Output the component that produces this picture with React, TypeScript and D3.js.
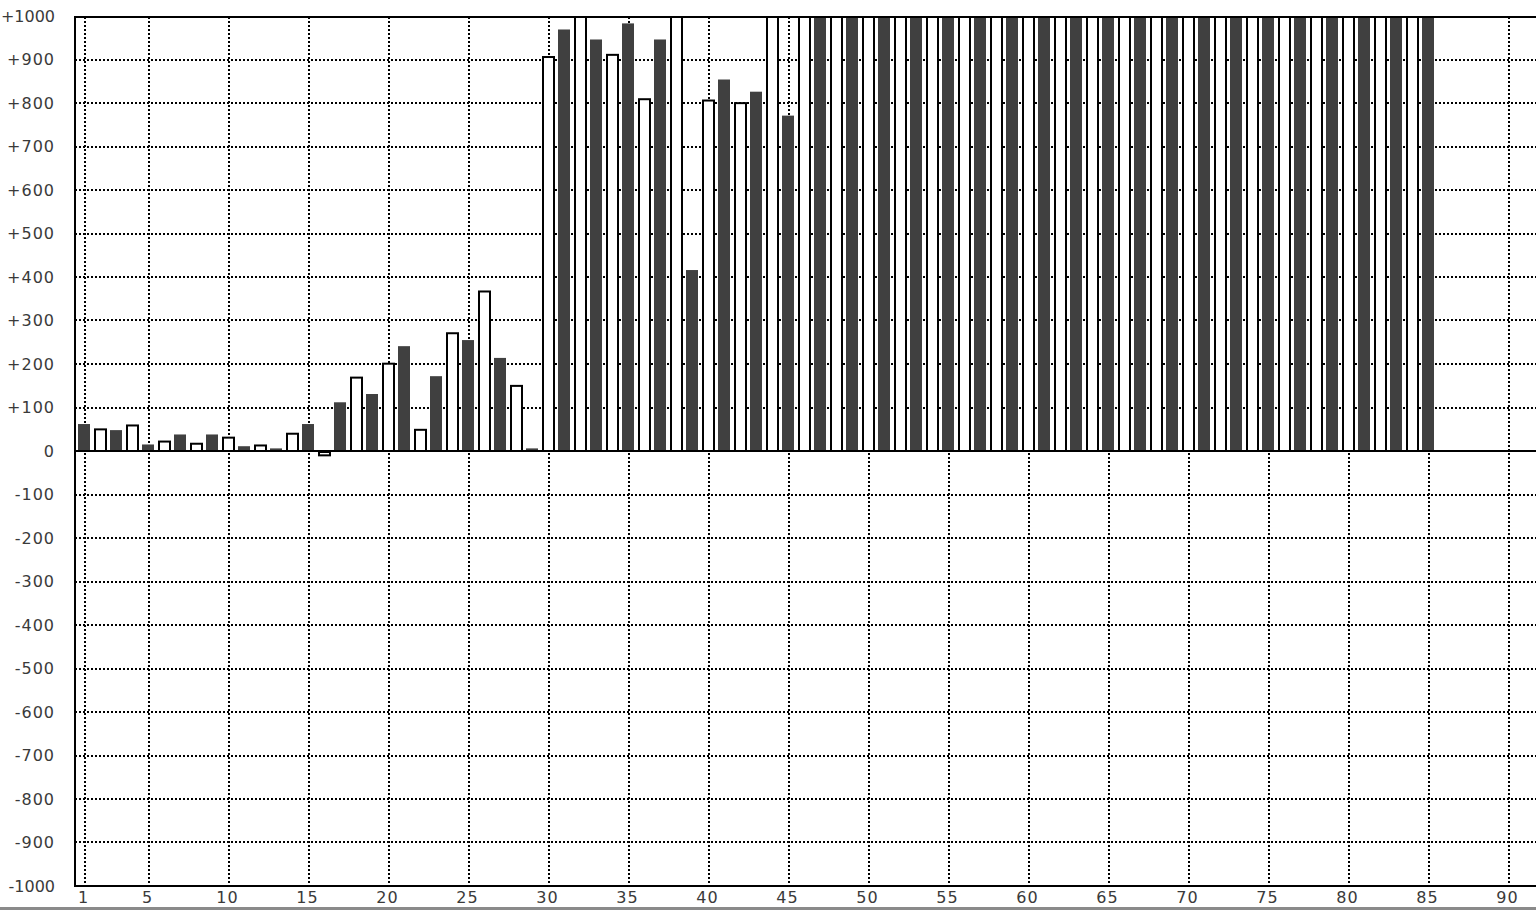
import React from "react";
import * as d3 from "d3";

// Dark series: odd positions 1,3,...,85
const darkX = [1,3,5,7,9,11,13,15,17,19,21,23,25,27,29,31,33,35,37,39,41,43,45,47,49,51,53,55,57,59,61,63,65,67,69,71,73,75,77,79,81,83,85];
const darkValues = [62,48,15,38,38,11,6,62,112,131,241,172,255,214,6,969,946,983,946,416,854,826,771,1000,1000,1000,1000,1000,1000,1000,1000,1000,1000,1000,1000,1000,1000,1000,1000,1000,1000,1000,1000];
// Light (outlined) series: even positions 2,4,...,84
const lightX = [2,4,6,8,10,12,14,16,18,20,22,24,26,28,30,32,34,36,38,40,42,44,46,48,50,52,54,56,58,60,62,64,66,68,70,72,74,76,78,80,82,84];
const lightValues = [52,61,24,19,33,15,42,-10,171,203,51,273,369,152,908,1000,913,811,1000,808,802,1000,1000,1000,1000,1000,1000,1000,1000,1000,1000,1000,1000,1000,1000,1000,1000,1000,1000,1000,1000,1000];

const xTicks = [1,5,10,15,20,25,30,35,40,45,50,55,60,65,70,75,80,85,90];
const yTicks = [1000,900,800,700,600,500,400,300,200,100,0,-100,-200,-300,-400,-500,-600,-700,-800,-900,-1000];
const yLabels = ["+1000","+900","+800","+700","+600","+500","+400","+300","+200","+100","0","-100","-200","-300","-400","-500","-600","-700","-800","-900","-1000"];

const W = 1536, H = 910;
const plotLeft = 75, plotRight = 1540, plotTop = 17, plotBottom = 886;

export default function App() {
  const x = d3.scaleLinear().domain([0, 90]).range([69, 1509]);
  const y = d3.scaleLinear().domain([-1000, 1000]).range([886, 16]);
  const font = "'DejaVu Sans', Verdana, sans-serif";

  const darkBars = darkX.map((xv, i) => {
    const v = darkValues[i];
    const c = x(xv);
    const y0 = y(0), y1 = y(v);
    return <rect key={"d" + xv} x={c - 7} width={12} y={Math.min(y0, y1)} height={Math.abs(y1 - y0)} fill="#404040" />;
  });
  const lightBars = lightX.map((xv, i) => {
    const v = lightValues[i];
    const c = x(xv);
    const y0 = y(0), y1 = y(v);
    const top = Math.min(y0, y1), bot = Math.max(y0, y1);
    return <rect key={"l" + xv} x={c - 6} width={11} y={top + 1} height={Math.max(0, bot - top - 1)} fill="#fff" stroke="#000" strokeWidth={2} />;
  });

  return (
    <div style={{ position: "fixed", left: 0, top: 0, width: W, height: H, background: "#fff" }}>
      <svg width={W} height={H} style={{ display: "block" }}>
        <defs>
          <clipPath id="plotClip">
            <rect x={plotLeft} y={plotTop} width={plotRight - plotLeft} height={plotBottom - plotTop} />
          </clipPath>
        </defs>
        <rect x={0} y={0} width={W} height={H} fill="#fff" />
        {/* gridlines */}
        <g stroke="#000" strokeWidth={2} strokeDasharray="2,2" shapeRendering="crispEdges">
          {yTicks.filter(t => t !== 0 && Math.abs(t) !== 1000).map(t => (
            <line key={"gy" + t} x1={plotLeft} x2={plotRight} y1={Math.round(y(t))} y2={Math.round(y(t))} />
          ))}
          {xTicks.map(t => (
            <line key={"gx" + t} x1={x(t)} x2={x(t)} y1={plotTop} y2={plotBottom} />
          ))}
        </g>
        {/* bars */}
        <g clipPath="url(#plotClip)">
          {darkBars}
          {lightBars}
        </g>
        {/* zero line */}
        <line x1={plotLeft} x2={plotRight} y1={y(0)} y2={y(0)} stroke="#000" strokeWidth={2.2} />
        {/* frame */}
        <g stroke="#000" strokeWidth={2} fill="none">
          <line x1={plotLeft - 1} x2={plotRight} y1={plotTop} y2={plotTop} />
          <line x1={plotLeft - 1} x2={plotRight} y1={plotBottom} y2={plotBottom} />
          <line x1={plotLeft} x2={plotLeft} y1={plotTop} y2={plotBottom} />
        </g>
        {/* y labels */}
        <g fontFamily={font} fontSize={16} fill="#3a3a3a" textAnchor="end">
          {yTicks.map((t, i) => (
            <text key={"yl" + t} x={55} y={y(t) + 5.5} letterSpacing={Math.abs(t) === 1000 ? 0 : 1}>{yLabels[i]}</text>
          ))}
        </g>
        {/* x labels */}
        <g fontFamily={font} fontSize={16} fill="#3a3a3a" textAnchor="middle" letterSpacing={1}>
          {xTicks.map(t => (
            <text key={"xl" + t} x={x(t) - 1.5} y={903}>{String(t)}</text>
          ))}
        </g>
        <rect x={0} y={907} width={W} height={3} fill="#8a8a8a" />
      </svg>
    </div>
  );
}
